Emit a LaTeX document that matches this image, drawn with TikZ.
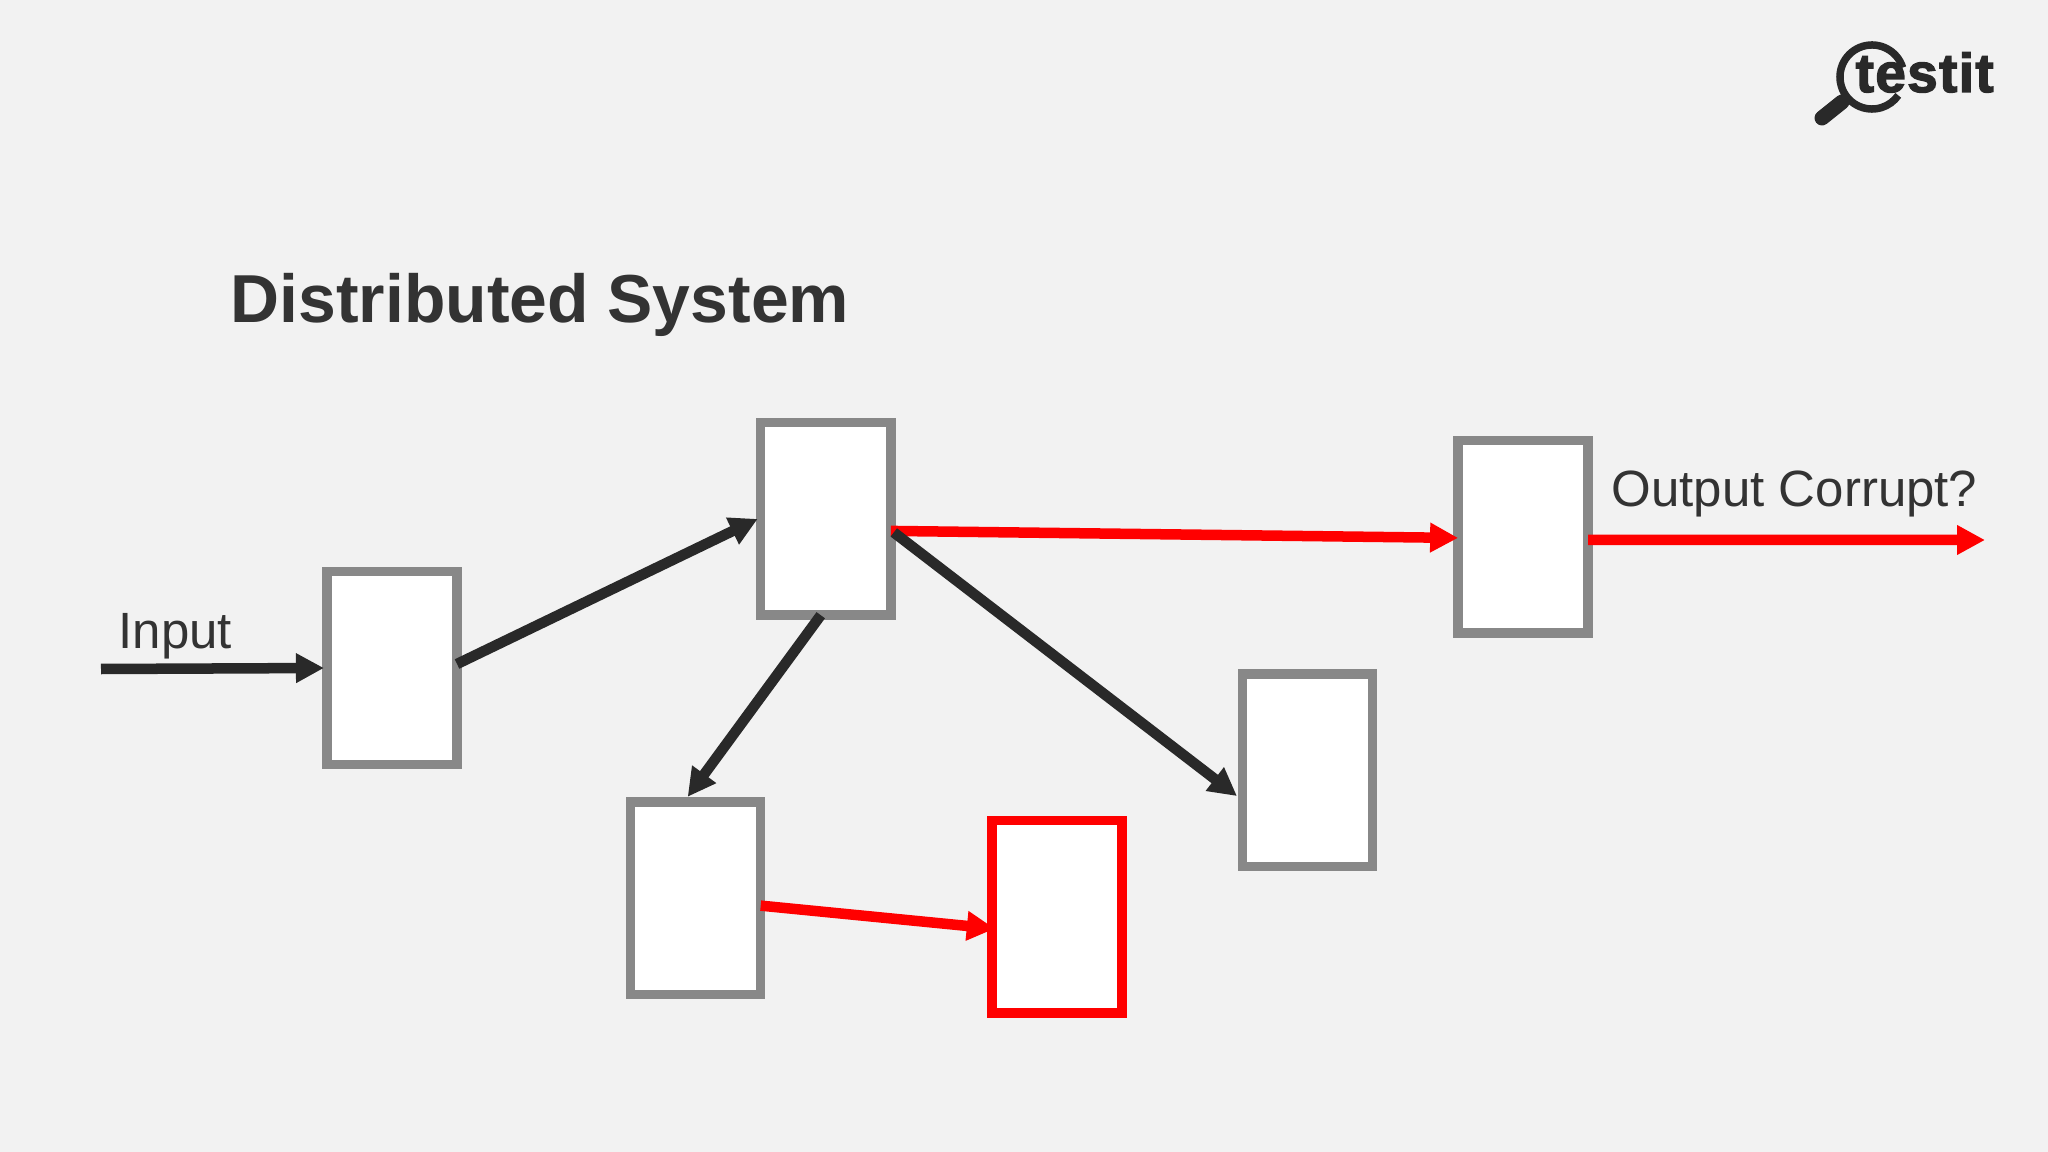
\documentclass[tikz,border=0pt]{standalone}
\usepackage{fontspec}
\usepackage{xcolor}
\usepackage{tikz}
\setmainfont{Liberation Sans}
\newfontfamily\logofont[FakeBold=2.5, LetterSpace=2.5]{Liberation Sans Bold}
\usetikzlibrary{arrows.meta}
\definecolor{page_bg}{HTML}{F2F2F2}
\definecolor{box_gray}{HTML}{888888}
\definecolor{ink}{HTML}{292929}
\definecolor{text_ink}{HTML}{333333}

\begin{document}
\begin{tikzpicture}[x=.01cm, y=-.01cm, node distance=3cm,
    proc_box/.style={draw=box_gray, fill=white, rectangle, line width=.095cm, minimum width=1.30cm, minimum height=1.925cm, inner sep=0pt, outer sep=0pt},
    bad_box/.style={proc_box, draw=red},
    flow/.style={draw=ink, line width=.105cm, -{Triangle[length=.28cm, width=.28cm]}},
    red_flow/.style={flow, draw=red, -{Triangle[length=.28cm, width=.28cm, fill=red]}},
    label_text/.style={anchor=base west, inner sep=0pt, text=text_ink, font=\fontsize{14.5}{17}\selectfont}
]
    \fill[page_bg] (0,0) rectangle (2048,1152);
    \useasboundingbox (0,0) rectangle (2048,1152);

    \node (title) [anchor=base west, inner sep=0pt, text=text_ink, font=\bfseries\fontsize{19.3}{23}\selectfont] at (230,323) {Distributed System};

    \node (input_box) [proc_box] at (392,668) {};
    \node (hub_box) [proc_box, right of=input_box, xshift=1.335cm, yshift=1.49cm] {};
    \node (out_box) [proc_box, right of=hub_box, xshift=3.97cm, yshift=-.18cm] {};
    \node (side_box) [proc_box, below of=hub_box, xshift=4.815cm, yshift=.49cm] {};
    \node (low_box) [proc_box, below of=hub_box, xshift=-1.30cm, yshift=-.79cm] {};
    \node (fail_box) [bad_box, right of=low_box, xshift=.61cm, yshift=-.185cm] {};

    \node (input_label) [label_text] at (118,648) {Input};
    \node (output_label) [label_text] at (1611,507) {Output Corrupt?};

    \coordinate (input_start) at (101,669);
    \coordinate (output_end) at (1985,540);

    \draw[red_flow] ([yshift=-.12cm]hub_box.east) -- ([yshift=-.01cm]out_box.west);
    \draw[red_flow] ([yshift=-.03cm]out_box.east) -- (output_end);
    \draw[red_flow] ([yshift=-.075cm]low_box.east) -- ([xshift=.03cm, yshift=-.12cm]fail_box.west);

    \draw[flow] (input_start) -- ([xshift=-.03cm]input_box.west);
    \draw[flow] ([yshift=.04cm]input_box.east) -- ([xshift=-.03cm]hub_box.west);
    \draw[flow] ([xshift=-.05cm]hub_box.south) -- ([xshift=-.08cm, yshift=.05cm]low_box.north);
    \draw[flow] ([xshift=.03cm, yshift=-.135cm]hub_box.east) -- ([xshift=-.055cm, yshift=-.26cm]side_box.west);

    % logo
    \draw[ink, line width=.075cm] (1872,77) ++(17:.32cm) arc[start angle=17, end angle=325, radius=.32cm];
    \draw[ink, line width=.15cm, line cap=round] (1842,102) -- (1822,118);
    \node (logo_text) [anchor=base west, inner sep=0pt, text=ink, font=\logofont\fontsize{15.6}{18}\selectfont] at (1855,92) {testit};
\end{tikzpicture}
\end{document}
